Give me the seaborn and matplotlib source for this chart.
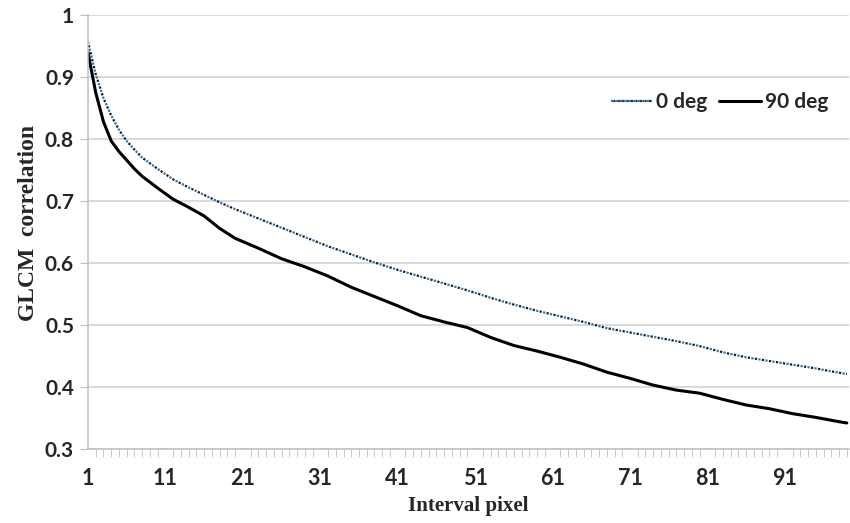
import seaborn as sns
import pandas as pd
import numpy as np
import matplotlib.pyplot as plt
from matplotlib.ticker import MultipleLocator
from matplotlib.lines import Line2D

# values (interval pixel -> GLCM correlation)
pixels = [1, 2, 3, 4, 5, 6, 7, 8, 10, 12, 14, 16, 18, 20, 23, 26, 29, 32, 35, 38,
          41, 44, 47, 50, 53, 56, 59, 62, 65, 68, 71, 74, 77, 80, 83, 86, 89, 92, 95, 98, 99]
deg0 = [0.957, 0.905, 0.866, 0.838, 0.815, 0.797, 0.783, 0.770, 0.752, 0.735,
        0.722, 0.710, 0.698, 0.687, 0.672, 0.657, 0.642, 0.627, 0.614, 0.601,
        0.589, 0.578, 0.567, 0.556, 0.544, 0.533, 0.523, 0.514, 0.505, 0.495,
        0.488, 0.481, 0.474, 0.466, 0.456, 0.448, 0.442, 0.436, 0.430, 0.423, 0.421]
deg90 = [0.940, 0.875, 0.828, 0.797, 0.780, 0.766, 0.752, 0.740, 0.721, 0.703,
         0.690, 0.676, 0.656, 0.640, 0.624, 0.607, 0.594, 0.579, 0.561, 0.546,
         0.531, 0.515, 0.505, 0.496, 0.480, 0.467, 0.458, 0.448, 0.437, 0.424,
         0.414, 0.403, 0.395, 0.390, 0.380, 0.371, 0.365, 0.357, 0.351, 0.344, 0.342]
xtick_labels = [1, 11, 21, 31, 41, 51, 61, 71, 81, 91]

df = pd.DataFrame({'pixel': pixels, '0 deg': deg0, '90 deg': deg90})

sns.set_style('white')
fig = plt.figure(figsize=(8.5, 5.23), dpi=100)
ax = fig.add_axes([0.1035, 0.1415, 0.8955, 0.8295])

# dotted series: blue dots alternating with dark dots
sns.lineplot(data=df, x='pixel', y='0 deg', ax=ax, color='#2E75B6', lw=1.6,
             linestyle=(0, (1, 2.2)), dash_capstyle='butt')
sns.lineplot(data=df, x='pixel', y='0 deg', ax=ax, color='#1a1a1a', lw=1.6,
             linestyle=(1.6, (1, 2.2)), dash_capstyle='butt')
sns.lineplot(data=df, x='pixel', y='90 deg', ax=ax, color='black', lw=2.2)

ax.set_xlim(1, 99.3)
ax.set_ylim(0.3, 1.0)
ax.set_yticks([0.3, 0.4, 0.5, 0.6, 0.7, 0.8, 0.9, 1.0])
ax.set_yticklabels(['0.3', '0.4', '0.5', '0.6', '0.7', '0.8', '0.9', '1'])
ax.set_xticks(xtick_labels)
ax.set_xticklabels([str(v) for v in xtick_labels])
ax.xaxis.set_minor_locator(MultipleLocator(1))

ax.grid(axis='y', color='#D0D0D0', lw=1.1)
ax.set_axisbelow(True)
for s in ['top', 'right']:
    ax.spines[s].set_visible(False)
for s in ['left', 'bottom']:
    ax.spines[s].set_color('#BFBFBF')
    ax.spines[s].set_linewidth(1.1)

ax.tick_params(axis='y', which='major', length=6, color='#BFBFBF', direction='out',
               left=True, pad=4)
ax.tick_params(axis='x', which='major', length=0, pad=14)
ax.tick_params(axis='x', which='minor', length=6, color='#BFBFBF', direction='out',
               bottom=True)
for t in ax.get_yticklabels():
    t.set_fontfamily('Lato')
    t.set_fontweight('bold')
    t.set_fontsize(15)
for t in ax.get_xticklabels():
    t.set_fontfamily('Lato')
    t.set_fontweight('bold')
    t.set_fontsize(15.5)

ax.set_xlabel('Interval pixel', fontfamily='Liberation Serif', fontweight='bold',
              fontsize=15, labelpad=5)
ax.set_ylabel('GLCM  correlation', fontfamily='Liberation Serif', fontweight='bold',
              fontsize=17)
ax.yaxis.set_label_coords(-0.064, 0.52)

handles = [Line2D([], [], color='#2E75B6', lw=1.6, linestyle=(0, (1, 1)), gapcolor='#333333'),
           Line2D([], [], color='black', lw=2.2)]
ax.legend(handles, ['0 deg', '90 deg'], loc='upper left', bbox_to_anchor=(0.662, 0.865),
          ncol=2, frameon=False, handlelength=2.0, columnspacing=0.55, handletextpad=0.2,
          prop={'family': 'Lato', 'weight': 'bold', 'size': 15})

plt.savefig('out.png', dpi=100)
